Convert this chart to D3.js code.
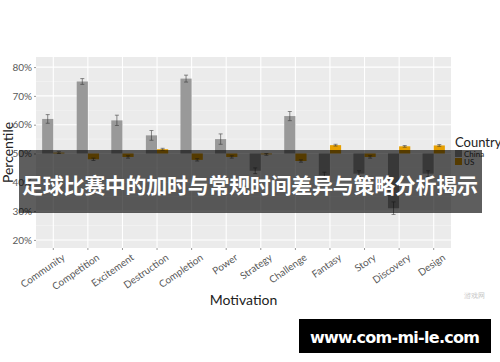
<!DOCTYPE html>
<html lang="zh">
<head>
<meta charset="UTF-8">
<title>Motivation by country</title>
<script src="https://d3js.org/d3.v7.min.js"></script>
<style>
  body { margin: 0; background: #fff; }
  svg { display: block; font-family: Lato, "Open Sans", sans-serif; }
</style>
</head>
<body>
<script>
// data
var motivations = ['Community', 'Competition', 'Excitement', 'Destruction', 'Completion', 'Power',
                   'Strategy', 'Challenge', 'Fantasy', 'Story', 'Discovery', 'Design'];
var countries = ['China', 'US'];
var chinaVals = [62, 75, 61.5, 56.3, 76, 55, 44, 63, 42.5, 43, 31, 43];
var chinaErr  = [1.5, 1, 1.8, 1.7, 1.2, 1.8, 1, 1.6, 1, 1, 2.2, 1];
var usVals    = [50.3, 48, 48.8, 51.5, 47.8, 48.8, 49.7, 47.4, 52.9, 48.8, 52.5, 52.8];
var usErr     = [0.3, 0.4, 0.4, 0.3, 0.4, 0.4, 0.3, 0.4, 0.3, 0.4, 0.3, 0.3];
var yTicks = [20, 30, 40, 50, 60, 70, 80];
var yMinor = [25, 35, 45, 55, 65, 75];

var w = 500, h = 362;
var pLeft = 36, pRight = 451, pTop = 57, pBottom = 248;
var colors = {China: '#999999', US: '#E69F00'};

var svg = d3.select('body').append('svg')
    .attr('width', w).attr('height', h);

var x = d3.scaleBand().domain(motivations).range([pLeft, pRight]);
var xs = d3.scaleBand().domain(countries).range([0, x.bandwidth()]).paddingInner(0).paddingOuter(0.55);
var y = d3.scaleLinear().domain([17.2, 83.5]).range([pBottom, pTop]);

var rows = [];
motivations.forEach(function(m, i) {
    rows.push({m: m, c: 'China', v: chinaVals[i], e: chinaErr[i]});
    rows.push({m: m, c: 'US', v: usVals[i], e: usErr[i]});
});

// panel
svg.append('rect')
    .attr('x', pLeft).attr('y', pTop)
    .attr('width', pRight - pLeft).attr('height', pBottom - pTop)
    .attr('fill', '#ebebeb');

svg.selectAll('.minor').data(yMinor).enter().append('line')
    .attr('x1', pLeft).attr('x2', pRight)
    .attr('y1', d => y(d)).attr('y2', d => y(d))
    .attr('stroke', '#f5f5f5').attr('stroke-width', 0.6);

svg.selectAll('.major').data(yTicks).enter().append('line')
    .attr('x1', pLeft).attr('x2', pRight)
    .attr('y1', d => y(d)).attr('y2', d => y(d))
    .attr('stroke', '#fff').attr('stroke-width', 1.1);

svg.selectAll('.vgrid').data(motivations).enter().append('line')
    .attr('x1', d => x(d) + x.bandwidth() / 2).attr('x2', d => x(d) + x.bandwidth() / 2)
    .attr('y1', pTop).attr('y2', pBottom)
    .attr('stroke', '#fff').attr('stroke-width', 1.1);

// bars from the 50% line
svg.selectAll('.bar').data(rows).enter().append('rect')
    .attr('x', d => x(d.m) + xs(d.c))
    .attr('width', xs.bandwidth())
    .attr('y', d => y(Math.max(d.v, 50)))
    .attr('height', d => Math.abs(y(d.v) - y(50)))
    .attr('fill', d => colors[d.c]);

// error bars
var eb = svg.selectAll('.err').data(rows).enter().append('g')
    .attr('stroke', '#333').attr('stroke-width', 0.7).attr('opacity', 0.8);
eb.append('line')
    .attr('x1', d => x(d.m) + xs(d.c) + xs.bandwidth() / 2)
    .attr('x2', d => x(d.m) + xs(d.c) + xs.bandwidth() / 2)
    .attr('y1', d => y(d.v - d.e)).attr('y2', d => y(d.v + d.e));
[-1, 1].forEach(function(s) {
    eb.append('line')
        .attr('x1', d => x(d.m) + xs(d.c) + xs.bandwidth() / 2 - 2)
        .attr('x2', d => x(d.m) + xs(d.c) + xs.bandwidth() / 2 + 2)
        .attr('y1', d => y(d.v + s * d.e)).attr('y2', d => y(d.v + s * d.e));
});

// y axis
var yAxis = svg.append('g')
    .attr('transform', 'translate(' + pLeft + ',0)')
    .call(d3.axisLeft(y).tickValues(yTicks).tickFormat(d => d + '%').tickSize(2).tickPadding(2));
yAxis.select('.domain').remove();
yAxis.selectAll('line').attr('stroke', '#999');
yAxis.selectAll('text').attr('fill', '#5a5a5a').style('font-size', '10px').style('font-family', 'Lato');

// x axis
var xAxis = svg.append('g')
    .attr('transform', 'translate(0,' + pBottom + ')')
    .call(d3.axisBottom(x).tickSize(2).tickPadding(2));
xAxis.select('.domain').remove();
xAxis.selectAll('line').attr('stroke', '#999');
xAxis.selectAll('text')
    .attr('fill', '#5a5a5a').style('font-size', '10px').style('font-family', 'Lato')
    .attr('text-anchor', 'end')
    .attr('dy', '0.7em')
    .attr('transform', 'translate(6,2) rotate(-35)');

// axis titles
svg.append('text')
    .attr('x', (pLeft + pRight) / 2).attr('y', 305)
    .attr('text-anchor', 'middle')
    .style('font-size', '14px').attr('fill', '#222')
    .text('Motivation');

svg.append('text')
    .attr('transform', 'translate(13,' + ((pTop + pBottom) / 2) + ') rotate(-90)')
    .attr('text-anchor', 'middle')
    .style('font-size', '14px').attr('fill', '#222')
    .text('Percentile');

// legend
var lg = svg.append('g').attr('transform', 'translate(455,0)');
lg.append('text').attr('x', 0).attr('y', 147)
    .style('font-size', '13px').attr('fill', '#222').text('Country');
countries.forEach(function(c, i) {
    lg.append('rect').attr('x', 0).attr('y', 150 + i * 8)
        .attr('width', 7).attr('height', 7).attr('fill', colors[c]);
    lg.append('text').attr('x', 9).attr('y', 156.5 + i * 8)
        .style('font-size', '8px').attr('fill', '#333').text(c);
});

// overlay banner
svg.append('rect')
    .attr('x', 19).attr('y', 150)
    .attr('width', 463).attr('height', 63)
    .attr('fill', 'rgba(0,0,0,0.63)');
svg.append('text')
    .attr('x', 250).attr('y', 193)
    .attr('text-anchor', 'middle')
    .attr('textLength', 456)
    .style('font-family', '"Noto Sans CJK SC", sans-serif')
    .style('font-weight', 'bold').style('font-size', '21px')
    .attr('fill', '#fff')
    .text('足球比赛中的加时与常规时间差异与策略分析揭示');

// small watermark
svg.append('text')
    .attr('x', 474).attr('y', 298)
    .attr('text-anchor', 'middle')
    .style('font-size', '7px').attr('fill', '#c8c8c8')
    .text('游戏网');

// site box
svg.append('rect')
    .attr('x', 299).attr('y', 319)
    .attr('width', 192).attr('height', 34)
    .attr('fill', '#000');
svg.append('text')
    .attr('x', 395).attr('y', 343)
    .attr('text-anchor', 'middle')
    .attr('textLength', 170)
    .style('font-family', '"DejaVu Sans", sans-serif')
    .style('font-weight', 'bold').style('font-size', '16px')
    .attr('fill', '#fff')
    .text('www.com-mi-le.com');
</script>
</body>
</html>
